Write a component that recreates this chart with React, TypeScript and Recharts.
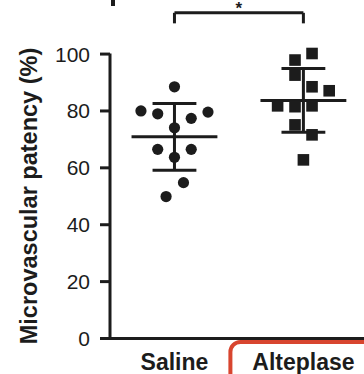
import React from 'react';
import { ScatterChart, Scatter, XAxis, YAxis, ReferenceLine } from 'recharts';

const groups = ['Saline', 'Alteplase'];
const salineValues = [88.5, 80, 79, 77.4, 79.6, 74.1, 66.5, 66.5, 63.7, 54.8, 49.9];
const salineJitter = [0, -0.26, -0.13, 0.13, 0.26, 0, -0.13, 0.13, 0, 0.07, -0.065];
const alteplaseValues = [100.2, 97.9, 92.6, 88.5, 87.1, 81.8, 81.5, 81.8, 75.1, 71.6, 62.8];
const alteplaseJitter = [0.067, -0.065, -0.065, 0.067, 0.2, -0.2, -0.065, 0.067, -0.065, 0.067, 0];
const yTicks = [0, 20, 40, 60, 80, 100];
const significance = '*';
const bracketLevel = 114.5;
const bracketDrop = 110.8;

const FONT = '"Liberation Sans", Arial, sans-serif';
const INK = '#1c1c1c';

const toPoints = (values: number[], jitter: number[], group: number) =>
  values.map((v, i) => ({ x: group + jitter[i], y: v }));

const salineData = toPoints(salineValues, salineJitter, 1);
const alteplaseData = toPoints(alteplaseValues, alteplaseJitter, 2);

const stats = (values: number[]) => {
  const mean = values.reduce((a, b) => a + b, 0) / values.length;
  const sd = Math.sqrt(values.reduce((a, b) => a + (b - mean) ** 2, 0) / (values.length - 1));
  return { mean, sd };
};

const summaries = [stats(salineValues), stats(alteplaseValues)];

const Dot = (props: any) => <circle cx={props.cx} cy={props.cy} r={5.6} fill={INK} />;
const Box = (props: any) => (
  <rect x={props.cx - 5.8} y={props.cy - 5.8} width={11.6} height={11.6} fill={INK} />
);

const GroupTick = (props: any) => {
  const { x, y, payload } = props;
  const name = groups[payload.value - 1];
  return (
    <g>
      {name === 'Alteplase' && (
        <rect x={x - 73} y={y + 3.5} width={170} height={60} rx={10} fill="none" stroke="#d8452f" strokeWidth={4} />
      )}
      <text x={x} y={y + 31.5} textAnchor="middle" fontSize={23} fontWeight="bold" fill={INK} fontFamily={FONT}>
        {name}
      </text>
    </g>
  );
};

const YTitle = (props: any) => {
  const { viewBox } = props;
  const cx = viewBox.x + 37;
  const cy = viewBox.y + viewBox.height / 2;
  return (
    <text
      x={cx}
      y={cy}
      transform={`rotate(-90, ${cx}, ${cy})`}
      textAnchor="middle"
      fontSize={23.5}
      fontWeight="bold"
      fill={INK}
      fontFamily={FONT}
    >
      Microvascular patency (%)
    </text>
  );
};

const Star = (props: any) => {
  const { viewBox } = props;
  return (
    <text x={viewBox.x + viewBox.width / 2} y={viewBox.y + 1} textAnchor="middle" fontSize={17} fontWeight="bold" fill={INK} fontFamily={FONT}>
      {significance}
    </text>
  );
};

const lineProps = { stroke: INK, strokeWidth: 3, ifOverflow: 'visible' as const };

export default function App() {
  return (
    <div style={{ position: 'fixed', top: 0, left: 0, width: 364, height: 374, overflow: 'hidden', background: '#fff' }}>
      <div style={{ position: 'absolute', left: 111, top: 0, width: 4, height: 6, background: INK }} />
      <ScatterChart width={364} height={374} margin={{ top: 53.5, right: 0, bottom: 0, left: 0 }}>
        <XAxis
          type="number"
          dataKey="x"
          domain={[0.5, 2.47]}
          ticks={[1, 2]}
          allowDataOverflow
          height={35.5}
          tickSize={0}
          tickMargin={0}
          tickLine={false}
          axisLine={{ stroke: INK, strokeWidth: 3 }}
          tick={<GroupTick />}
        />
        <YAxis
          type="number"
          dataKey="y"
          domain={[0, 100]}
          ticks={yTicks}
          width={110}
          tickSize={10}
          tickMargin={10}
          axisLine={{ stroke: INK, strokeWidth: 3 }}
          tickLine={{ stroke: INK, strokeWidth: 3 }}
          tick={{ fill: INK, fontSize: 21, fontFamily: FONT }}
          label={<YTitle />}
        />
        {summaries.map((s, i) => {
          const g = i + 1;
          return (
            <React.Fragment key={groups[i]}>
              <ReferenceLine {...lineProps} segment={[{ x: g - 0.333, y: s.mean }, { x: g + 0.333, y: s.mean }]} />
              <ReferenceLine {...lineProps} segment={[{ x: g - 0.17, y: s.mean + s.sd }, { x: g + 0.17, y: s.mean + s.sd }]} />
              <ReferenceLine {...lineProps} segment={[{ x: g - 0.17, y: s.mean - s.sd }, { x: g + 0.17, y: s.mean - s.sd }]} />
              <ReferenceLine {...lineProps} segment={[{ x: g, y: s.mean - s.sd }, { x: g, y: s.mean + s.sd }]} />
            </React.Fragment>
          );
        })}
        <ReferenceLine
          {...lineProps}
          segment={[{ x: 1, y: bracketLevel }, { x: 2, y: bracketLevel }]}
          label={<Star />}
        />
        <ReferenceLine {...lineProps} segment={[{ x: 1, y: bracketLevel }, { x: 1, y: bracketDrop }]} />
        <ReferenceLine {...lineProps} segment={[{ x: 2, y: bracketLevel }, { x: 2, y: bracketDrop }]} />
        <Scatter data={salineData} shape={<Dot />} isAnimationActive={false} />
        <Scatter data={alteplaseData} shape={<Box />} isAnimationActive={false} />
      </ScatterChart>
    </div>
  );
}
